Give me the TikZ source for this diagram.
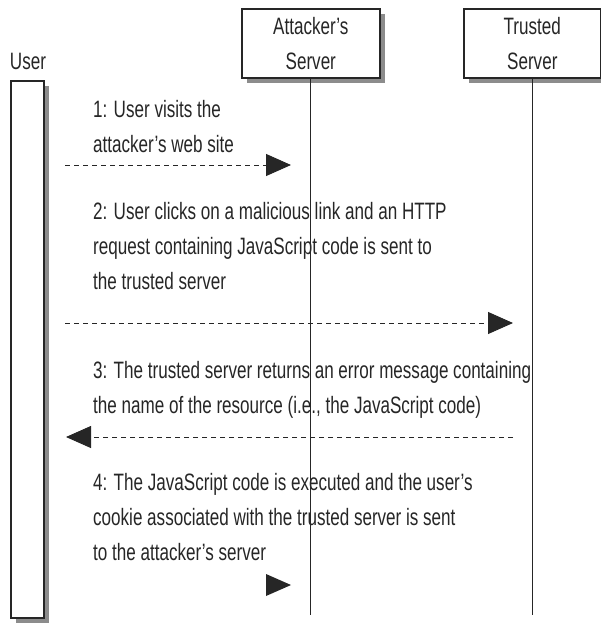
\documentclass[tikz,border=0pt]{standalone}
\usepackage{fontspec}
\setmainfont{Liberation Sans}[FakeStretch=0.72]
\usetikzlibrary{arrows.meta,shadows}

\begin{document}
\begin{tikzpicture}[x=1pt,y=-1pt,
    txt/.style={font=\fontsize{23.7}{35}\selectfont, text=black!85, inner sep=0pt},
    objbox/.style={draw=black!85, line width=1.6pt, fill=white, align=center,
        txt, drop shadow={shadow xshift=5pt, shadow yshift=-5pt, fill=black!45, opacity=1}},
    msg/.style={txt, align=left, anchor=base west},
    lifeline/.style={draw=black!85, line width=1.2pt},
    call/.style={draw=black!85, line width=0.9pt, dash pattern=on 5pt off 4pt,
        -{Triangle[length=25pt,width=22pt]}}]
    \useasboundingbox (0,0) rectangle (601,623);

    % objects
    \node[txt] (user) at (28,61) {User};
    \node[objbox, minimum width=33pt, minimum height=537pt, anchor=north west] (ubar) at (10,80) {};
    \node[objbox, minimum width=138pt, minimum height=69pt, anchor=north west] (att) at (241,8) {Attacker's\\Server};
    \node[objbox, minimum width=137pt, minimum height=69pt, anchor=north west] (trs) at (463,8) {Trusted\\Server};

    % lifelines
    \coordinate (attend) at (310,615);
    \coordinate (trsend) at (532,615);
    \draw[lifeline] (att.south) -- (att.south |- attend);
    \draw[lifeline] (trs.south) -- (trs.south |- trsend);

    % 1 (node placed by its last baseline)
    \node[msg] (m1) at (93,152) {1: User visits the\\attacker's web site};
    \coordinate (u1) at (65,165);
    \coordinate (a1) at (291,165);
    \draw[call] (u1) -- (a1);

    % 2
    \node[msg] (m2) at (93,289) {2: User clicks on a malicious link and an HTTP\\request containing JavaScript code is sent to\\the trusted server};
    \coordinate (u2) at (65,323);
    \coordinate (t2) at (513,323);
    \draw[call] (u2) -- (t2);

    % 3
    \node[msg] (m3) at (93,413) {3: The trusted server returns an error message containing\\the name of the resource (i.e., the JavaScript code)};
    \coordinate (t3) at (513,437);
    \coordinate (u3) at (66,437);
    \draw[call] (t3) -- (u3);

    % 4
    \node[msg] (m4) at (93,560) {4: The JavaScript code is executed and the user's\\cookie associated with the trusted server is sent\\to the attacker's server};
    \coordinate (a4) at (291,585);
    \fill[black!85] (a4) -- ++(-25,-11) -- ++(0,22) -- cycle;
\end{tikzpicture}
\end{document}
